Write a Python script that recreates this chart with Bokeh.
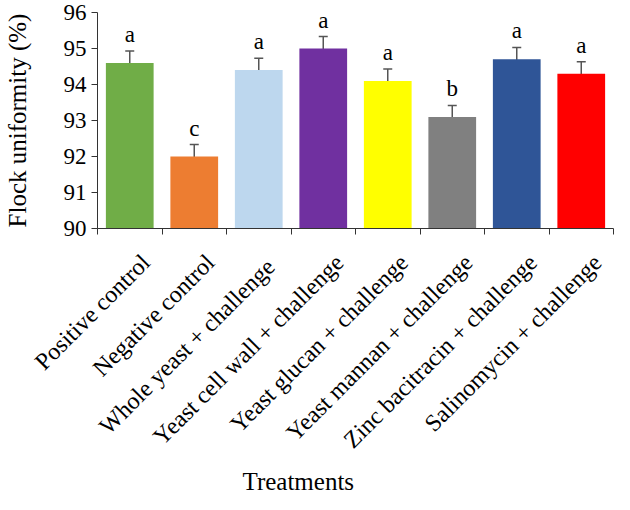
import math
from bokeh.plotting import figure
from bokeh.models import ColumnDataSource, FixedTicker, Range1d, Whisker, TeeHead, Title
from bokeh.core.properties import value
from bokeh.embed import file_html
from bokeh.resources import INLINE

treatments = [
    "Positive control",
    "Negative control",
    "Whole  yeast + challenge",
    "Yeast cell wall + challenge",
    "Yeast glucan + challenge",
    "Yeast mannan + challenge",
    "Zinc bacitracin + challenge",
    "Salinomycin + challenge",
]
uniformity = [94.6, 92.0, 94.4, 95.0, 94.1, 93.1, 94.7, 94.3]
sem = [0.33, 0.33, 0.33, 0.33, 0.33, 0.32, 0.33, 0.33]
letters = ["a", "c", "a", "a", "a", "b", "a", "a"]
colors = ["#70AD47", "#ED7D31", "#BDD7EE", "#7030A0", "#FFFF00", "#808080", "#2F5597", "#FF0000"]
y_ticks = [90, 91, 92, 93, 94, 95, 96]

FONT = "Liberation Serif"
n = len(treatments)
xs = list(range(n))
label_pos = [i + 0.25 for i in xs]  # rotated labels end slightly right of bar centre

src = ColumnDataSource(dict(
    x=xs,
    top=uniformity,
    upper=[u + s for u, s in zip(uniformity, sem)],
    lower=[u - s for u, s in zip(uniformity, sem)],
    letter=letters,
    color=colors,
))

p = figure(
    width=614, height=494,
    x_range=Range1d(-0.5, n - 0.5), y_range=Range1d(90, 96),
    output_backend="svg", toolbar_location=None,
    min_border_left=90, min_border_right=1, min_border_top=12, min_border_bottom=260,
)
p.outline_line_color = None
p.xgrid.visible = False
p.ygrid.visible = False

p.vbar(x="x", top="top", bottom=90, width=0.74, fill_color="color", line_color=None, source=src)

w = Whisker(base="x", upper="upper", lower="lower", source=src,
            line_color="#555555", line_width=1.5,
            upper_head=TeeHead(size=9, line_color="#555555", line_width=1.5),
            lower_head=TeeHead(size=9, line_color="#555555", line_width=1.5))
p.add_layout(w)

p.text(x="x", y="upper", text="letter", source=src, text_font=value(FONT),
       text_font_size="23px", text_align="center", text_baseline="bottom",
       y_offset=-4, text_color="black")

# y axis
p.yaxis.ticker = FixedTicker(ticks=y_ticks)
p.yaxis.axis_label = "Flock uniformity (%)"
p.yaxis.axis_label_text_font = FONT
p.yaxis.axis_label_text_font_style = "normal"
p.yaxis.axis_label_text_font_size = "25px"
p.yaxis.axis_label_text_color = "black"
p.yaxis.axis_label_standoff = 30
p.yaxis.major_label_text_font = FONT
p.yaxis.major_label_text_font_size = "23px"
p.yaxis.major_label_text_color = "black"
p.yaxis.major_tick_in = 0
p.yaxis.major_tick_out = 6
p.yaxis.minor_tick_line_color = None
p.yaxis.axis_line_color = "#333333"
p.yaxis.major_tick_line_color = "#333333"

# x axis
p.xaxis.ticker = FixedTicker(ticks=label_pos, minor_ticks=[i - 0.5 for i in range(n + 1)])
p.xaxis.major_label_overrides = {k: t for k, t in zip(label_pos, treatments)}
p.xaxis.major_label_orientation = math.pi / 4
p.xaxis.major_label_text_font = FONT
p.xaxis.major_label_text_font_size = "24px"
p.xaxis.major_label_text_color = "black"
p.xaxis.major_label_standoff = 24
p.xaxis.major_tick_line_color = None
p.xaxis.minor_tick_in = 0
p.xaxis.minor_tick_out = 6
p.xaxis.minor_tick_line_color = "#333333"
p.xaxis.axis_line_color = "#333333"

# x-axis title below the rotated labels
p.add_layout(Title(text="Treatments", align="left", offset=145, standoff=0,
                   text_font=FONT, text_font_size="25px", text_font_style="normal",
                   text_color="black"), "below")

open("out.html", "w").write(file_html(p, INLINE))
